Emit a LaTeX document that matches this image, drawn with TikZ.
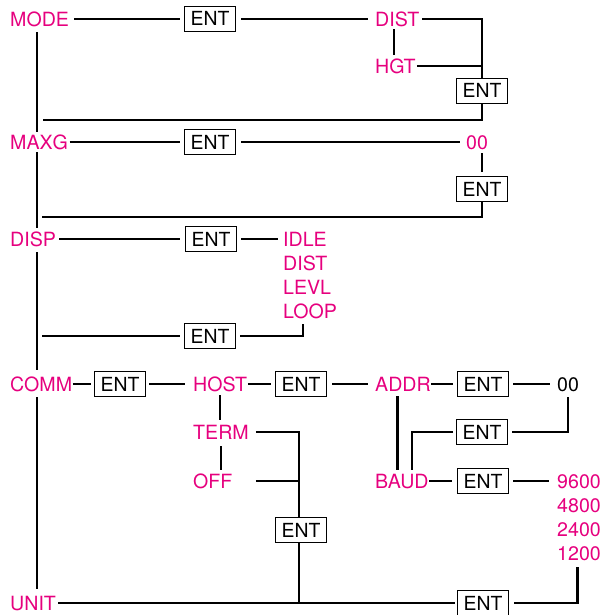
\documentclass[tikz,border=0pt]{standalone}
\usepackage{fontspec}
\newfontfamily\heros{TeX Gyre Heros}
\definecolor{pinkc}{RGB}{230,0,126}
\begin{document}
\begin{tikzpicture}[x=1pt,y=-1pt,
  lab/.style={text=pinkc, font=\heros\fontsize{19.6}{22}\selectfont, inner sep=0pt, text height=14.1pt, text depth=0pt, anchor=west},
  blab/.style={lab, text=black},
  entbox/.style={draw, line width=0.9pt, minimum width=51pt, minimum height=25pt, inner sep=0pt, font=\heros\fontsize{19.4}{22}\selectfont, text height=14pt, text depth=0pt},
  wire/.style={line width=2.3pt, line join=miter}]
\useasboundingbox (0,0) rectangle (605,615);
% labels
\node[lab] (mode) at (10,19) {MODE};
\node[lab] (maxg) at (10,142) {MAXG};
\node[lab] (disp) at (10,239) {DISP};
\node[lab] (comm) at (10,384) {COMM};
\node[lab] (unit) at (10,603) {UNIT};
\node[lab] (dist1) at (375,19) {DIST};
\node[lab] (hgt) at (375,66) {HGT};
\node[lab] (zero1) at (466,142) {00};
\node[lab] (idle) at (283,239) {IDLE};
\node[lab] (dist2) at (283,263) {DIST};
\node[lab] (levl) at (283,287) {LEVL};
\node[lab] (loop) at (283,311) {LOOP};
\node[lab] (host) at (193,384) {HOST};
\node[lab] (term) at (193,432) {TERM};
\node[lab] (off) at (193,481) {OFF};
\node[lab] (addr) at (375,384) {ADDR};
\node[lab] (baud) at (375,481) {BAUD};
\node[blab] (zero2) at (557,384) {00};
\node[lab] (b9600) at (557,481) {9600};
\node[lab] (b4800) at (557,505) {4800};
\node[lab] (b2400) at (557,529) {2400};
\node[lab] (b1200) at (557,553) {1200};
% ENT boxes
\node[entbox] (e1) at (210,19) {ENT};
\node[entbox] (e2) at (482,91) {ENT};
\node[entbox] (e3) at (210,142) {ENT};
\node[entbox] (e4) at (482,189) {ENT};
\node[entbox] (e5) at (211,239) {ENT};
\node[entbox] (e6) at (210,336) {ENT};
\node[entbox] (e7) at (120,384) {ENT};
\node[entbox] (e8) at (301,384) {ENT};
\node[entbox] (e9) at (483,384) {ENT};
\node[entbox] (e10) at (482,432) {ENT};
\node[entbox] (e11) at (483,481) {ENT};
\node[entbox] (e12) at (301,530) {ENT};
\node[entbox] (e13) at (483,603) {ENT};
% helper coordinates
\coordinate (bb) at (37,0);
\coordinate (r1) at (43,120);
\coordinate (r2) at (42,217);
\coordinate (r3) at (42,336);
\coordinate (dv) at ([xshift=-3.5pt]dist1.south);
\coordinate (lv) at ([xshift=-7pt]loop.south);
\coordinate (av) at ([xshift=-5.5pt]addr.south);
\coordinate (bt) at ([xshift=10pt]baud.north);
\coordinate (kv) at ([xshift=-1.5pt]b1200.south);
\coordinate (tv) at ([xshift=-2pt]e12.north);
\coordinate (tv2) at ([xshift=-2pt]e12.south);
% backbone
\draw[wire] ([yshift=-6pt]mode.south -| bb) -- ([yshift=3pt]maxg.north -| bb);
\draw[wire] ([yshift=-3pt]maxg.south -| bb) -- ([yshift=4pt]disp.north -| bb);
\draw[wire] ([yshift=-6pt]disp.south -| bb) -- ([yshift=7pt]comm.north -| bb);
\draw[wire] ([yshift=-6pt]comm.south -| bb) -- ([yshift=7pt]unit.north -| bb);
% MODE
\draw[wire,shorten <=5pt,shorten >=4pt] (mode.east) -- (e1.west);
\draw[wire,shorten <=5.5pt,shorten >=7pt] (e1.east) -- (dist1.west);
\draw[wire,shorten <=3pt] (dist1.east) -| (e2.north);
\draw[wire,shorten <=1pt] (hgt.east) -- (hgt.east -| e2.north);
\draw[wire,shorten <=3pt,shorten >=4pt] (dv) -- (dv |- hgt.north);
\draw[wire] (e2.south) |- (r1);
% MAXG
\draw[wire,shorten <=1.5pt,shorten >=4pt] (maxg.east) -- (e3.west);
\draw[wire,shorten <=5.5pt,shorten >=6pt] (e3.east) -- (zero1.west);
\draw[wire,shorten <=4pt,shorten >=4pt] (e4.north |- zero1.south) -- (e4.north);
\draw[wire] (e4.south) |- (r2);
% DISP
\draw[wire,shorten <=3pt,shorten >=5pt] (disp.east) -- (e5.west);
\draw[wire,shorten <=4.5pt,shorten >=5pt] (e5.east) -- (idle.west);
\draw[wire,shorten <=6pt,shorten >=4.5pt] (lv) |- (e6.east);
\draw[wire,shorten <=4.5pt] (e6.west) -- (r3);
% COMM
\draw[wire,shorten <=0.5pt,shorten >=3pt] (comm.east) -- (e7.west);
\draw[wire,shorten <=3.5pt,shorten >=8pt] (e7.east) -- (host.west);
\draw[wire,shorten <=0.5pt,shorten >=4.5pt] (host.east) -- (e8.west);
\draw[wire,shorten <=5.5pt,shorten >=7pt] (e8.east) -- (addr.west);
\draw[wire,shorten <=0.5pt,shorten >=4.5pt] (addr.east) -- (e9.west);
\draw[wire,shorten <=4.5pt,shorten >=7pt] (e9.east) -- (zero2.west);
\draw[wire,shorten <=6pt,shorten >=4pt] (zero2.south) |- (e10.east);
\draw[wire,shorten <=3pt,shorten >=4pt] (e10.west) -| (bt);
\draw[wire,shorten <=5pt,shorten >=4pt] (av) -- (av |- baud.north);
\draw[wire,shorten <=0.5pt,shorten >=5.5pt] (baud.east) -- (e11.west);
\draw[wire,shorten <=4.5pt,shorten >=8pt] (e11.east) -- (b9600.west);
\draw[wire,shorten <=7pt,shorten >=5.5pt] (kv) |- (e13.east);
\draw[wire,shorten <=2.5pt,shorten >=2pt] (e13.west) -- (unit.east);
\draw[wire,shorten <=4pt,shorten >=5pt] (host.south) -- (host.south |- term.north);
\draw[wire,shorten <=7pt,shorten >=4pt] (term.south) -- (term.south |- off.north);
\draw[wire,shorten <=7pt] (term.east) -| (tv);
\draw[wire,shorten <=7pt] (term.east |- off.east) -- (tv |- off.east);
\draw[wire] (tv2) -- (tv2 |- unit.east);
\end{tikzpicture}
\end{document}
